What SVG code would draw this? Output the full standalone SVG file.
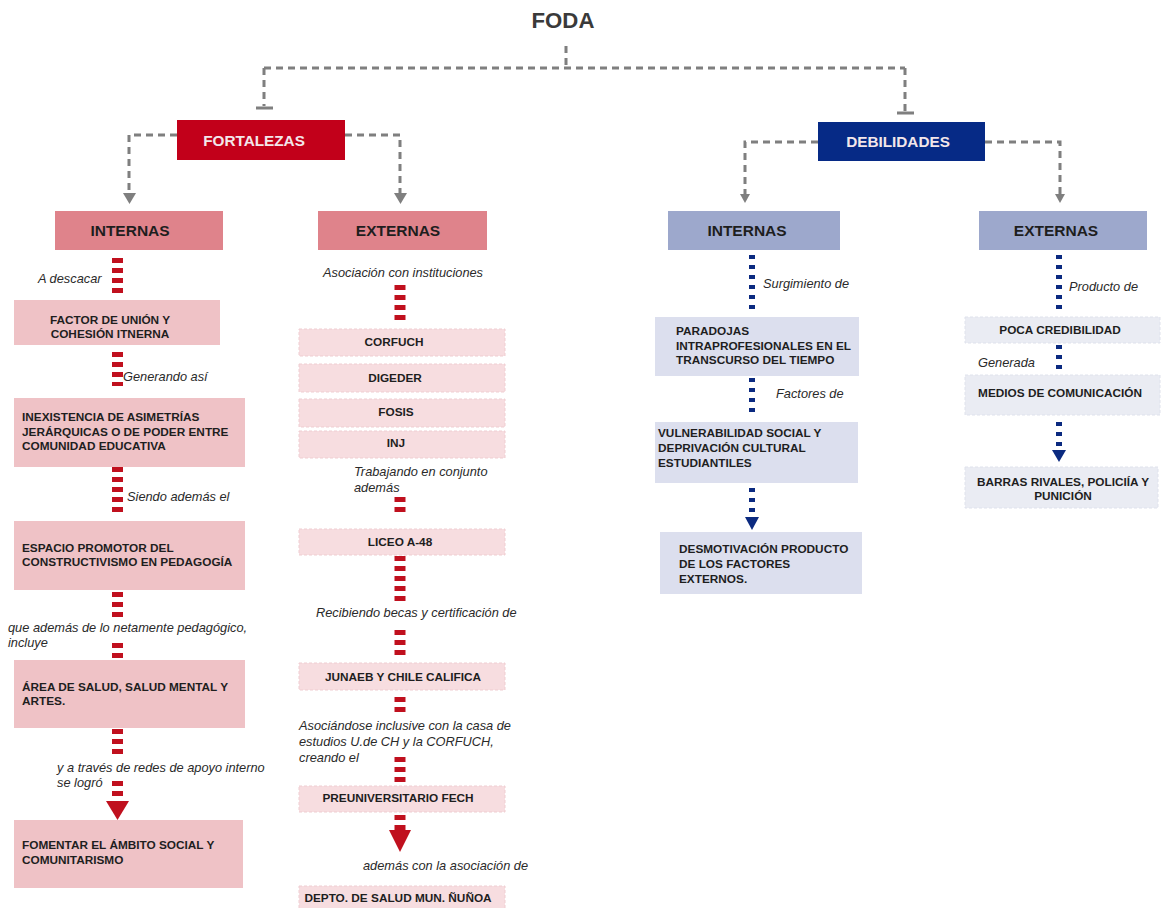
<svg xmlns="http://www.w3.org/2000/svg" width="1161" height="908" viewBox="0 0 1161 908">
<style>
.b{font-family:"Liberation Sans",Arial,sans-serif;font-weight:bold;font-size:11.8px;fill:#1e1e1e}
.h{font-family:"Liberation Sans",Arial,sans-serif;font-weight:bold;font-size:15.5px;fill:#1e1e1e}
.hw{font-family:"Liberation Sans",Arial,sans-serif;font-weight:bold;font-size:15.3px;fill:#f3e6ea}
.i{font-family:"Liberation Sans",Arial,sans-serif;font-style:italic;font-size:12.8px;fill:#2a2a2a}
.m{text-anchor:middle}
.gray{fill:none;stroke:#7f7f7f;stroke-width:3;stroke-dasharray:7 5}
.red{fill:none;stroke:#c0101e;stroke-width:11;stroke-dasharray:5 5}
.navy{fill:none;stroke:#0b2a80;stroke-width:6;stroke-dasharray:4 6}
.pk{fill:#efc2c6}
.pkd{fill:#f7dde0;stroke:#efcdd1;stroke-width:1;stroke-dasharray:3 2}
.ph{fill:#df838b}
.bh{fill:#9da8cc}
.bl{fill:#dcdfee}
.bld{fill:#eaecf3;stroke:#dfe2ec;stroke-width:1;stroke-dasharray:3 2}
</style>
<rect width="1161" height="908" fill="#ffffff"/>
<g id="connectors">
<path class="gray" d="M566,46 V68 M264,68 H905 M264,68 V106 M905,68 V111 M177,135 H129 V193 M345,135 H400 V193 M818,142 H745 V194 M985,142 H1060 V194"/>
<path d="M256,108 H273 M897,113 H914" stroke="#7f7f7f" stroke-width="3"/>
<polygon points="123,193 136,193 129.5,204" fill="#7f7f7f"/>
<polygon points="394,193 407,193 400.5,204" fill="#7f7f7f"/>
<polygon points="740,194 750,194 745,203" fill="#7f7f7f"/>
<polygon points="1055,194 1065,194 1060,203" fill="#7f7f7f"/>
<path class="red" d="M117.5,258 V294 M117.5,352 V386 M117.5,467 V512 M117.5,592 V618 M117.5,643 V660 M117.5,729 V755 M117.5,781 V801"/>
<polygon points="106,801 129,801 117.5,820" fill="#c0101e"/>
<path class="red" d="M400,285 V320 M400,497 V513 M400,556 V601 M400,630 V656 M400,697 V713 M400,757 V783 M400,815 V831"/>
<polygon points="389,830 411,830 400,852" fill="#c0101e"/>
<path class="navy" d="M752,255 V311 M752,378 V414 M752,488 V516 M1059,255 V311 M1059,345 V381 M1059,422 V449"/>
<polygon points="745,517 759,517 752,530" fill="#0b2a80"/>
<polygon points="1052,450 1066,450 1059,462" fill="#0b2a80"/>
</g>
<g id="foda"><text x="563" y="28" class="m" font-family="Liberation Sans,Arial,sans-serif" font-weight="bold" font-size="22.2px" fill="#3a3a3a">FODA</text></g>
<g id="fortalezas"><rect x="177" y="120" width="168" height="40" fill="#c2001a"/><text x="254" y="146" class="hw m">FORTALEZAS</text></g>
<g id="debilidades"><rect x="818" y="122" width="167" height="39" fill="#062a86"/><text x="898" y="147" class="hw m">DEBILIDADES</text></g>
<g id="f-internas"><rect x="55" y="211" width="168" height="39" class="ph"/><text x="130" y="236" class="h m">INTERNAS</text></g>
<g id="f-externas"><rect x="318" y="211" width="169" height="39" class="ph"/><text x="398" y="236" class="h m">EXTERNAS</text></g>
<g id="d-internas"><rect x="668" y="211" width="172" height="39" class="bh"/><text x="747" y="236" class="h m">INTERNAS</text></g>
<g id="d-externas"><rect x="979" y="211" width="168" height="39" class="bh"/><text x="1056" y="236" class="h m">EXTERNAS</text></g>

<g id="lbl-left">
<text x="38" y="283" class="i">A descacar</text>
<text x="123" y="381" class="i">Generando así</text>
<text x="127" y="501" class="i">Siendo además el</text>
<text x="8" y="632" class="i">que además de lo netamente pedagógico,</text>
<text x="8" y="647" class="i">incluye</text>
<text x="57" y="772" class="i">y a través de redes de apoyo interno</text>
<text x="57" y="787" class="i">se logró</text>
</g>
<g id="factor"><rect x="14" y="300" width="206" height="45" class="pk"/><text class="b m"><tspan x="110" y="324">FACTOR DE UNIÓN Y</tspan><tspan x="110" y="338">COHESIÓN ITNERNA</tspan></text></g>
<g id="inexistencia"><rect x="14" y="398" width="231" height="69" class="pk"/><text class="b"><tspan x="22" y="421">INEXISTENCIA DE ASIMETRÍAS</tspan><tspan x="22" y="436">JERÁRQUICAS O DE PODER ENTRE</tspan><tspan x="22" y="450">COMUNIDAD EDUCATIVA</tspan></text></g>
<g id="espacio"><rect x="14" y="521" width="231" height="69" class="pk"/><text class="b"><tspan x="22" y="552">ESPACIO PROMOTOR DEL</tspan><tspan x="22" y="566">CONSTRUCTIVISMO EN PEDAGOGÍA</tspan></text></g>
<g id="area"><rect x="14" y="660" width="231" height="68" class="pk"/><text class="b"><tspan x="22" y="691">ÁREA DE SALUD, SALUD MENTAL Y</tspan><tspan x="22" y="705">ARTES.</tspan></text></g>
<g id="fomentar"><rect x="14" y="820" width="229" height="68" class="pk"/><text class="b"><tspan x="22" y="849">FOMENTAR EL ÁMBITO SOCIAL Y</tspan><tspan x="22" y="864">COMUNITARISMO</tspan></text></g>

<g id="lbl-mid">
<text x="403" y="277" class="i m">Asociación con instituciones</text>
<text x="354" y="476" class="i">Trabajando en conjunto</text>
<text x="354" y="492" class="i">además</text>
<text x="316" y="617" class="i">Recibiendo becas y certificación de</text>
<text x="299" y="730" class="i">Asociándose inclusive con la casa de</text>
<text x="299" y="746" class="i">estudios U.de CH y la CORFUCH,</text>
<text x="299" y="762" class="i">creando el</text>
<text x="363" y="870" class="i">además con la asociación de</text>
</g>
<g id="corfuch"><rect x="299" y="329" width="206" height="27" class="pkd"/><text x="394" y="346" class="b m">CORFUCH</text></g>
<g id="digeder"><rect x="299" y="364" width="206" height="28" class="pkd"/><text x="395" y="382" class="b m">DIGEDER</text></g>
<g id="fosis"><rect x="299" y="399" width="206" height="28" class="pkd"/><text x="396" y="416" class="b m">FOSIS</text></g>
<g id="inj"><rect x="299" y="431" width="206" height="27" class="pkd"/><text x="396" y="447" class="b m">INJ</text></g>
<g id="liceo"><rect x="299" y="529" width="206" height="26" class="pkd"/><text x="400" y="546" class="b m">LICEO A-48</text></g>
<g id="junaeb"><rect x="299" y="663" width="206" height="27" class="pkd"/><text x="403" y="681" class="b m">JUNAEB Y CHILE CALIFICA</text></g>
<g id="preu"><rect x="299" y="786" width="206" height="26" class="pkd"/><text x="398" y="802" class="b m">PREUNIVERSITARIO FECH</text></g>
<g id="depto"><rect x="299" y="886" width="206" height="30" class="pkd"/><text x="398" y="902" class="b m">DEPTO. DE SALUD MUN. ÑUÑOA</text></g>

<g id="lbl-right">
<text x="763" y="288" class="i">Surgimiento de</text>
<text x="776" y="398" class="i">Factores de</text>
<text x="1069" y="291" class="i">Producto de</text>
<text x="978" y="367" class="i">Generada</text>
</g>
<g id="paradojas"><rect x="655" y="317" width="204" height="59" class="bl"/><text class="b"><tspan x="676" y="335">PARADOJAS</tspan><tspan x="676" y="350">INTRAPROFESIONALES EN EL</tspan><tspan x="676" y="364">TRANSCURSO DEL TIEMPO</tspan></text></g>
<g id="vulnerabilidad"><rect x="655" y="422" width="203" height="61" class="bl"/><text class="b"><tspan x="658" y="437">VULNERABILIDAD SOCIAL Y</tspan><tspan x="658" y="452">DEPRIVACIÓN CULTURAL</tspan><tspan x="658" y="467">ESTUDIANTILES</tspan></text></g>
<g id="desmotivacion"><rect x="660" y="532" width="202" height="62" class="bl"/><text class="b"><tspan x="679" y="553">DESMOTIVACIÓN PRODUCTO</tspan><tspan x="679" y="568">DE LOS FACTORES</tspan><tspan x="679" y="583">EXTERNOS.</tspan></text></g>
<g id="poca"><rect x="965" y="317" width="195" height="26" class="bld"/><text x="1060" y="334" class="b m">POCA CREDIBILIDAD</text></g>
<g id="medios"><rect x="965" y="375" width="195" height="40" class="bld"/><text x="1060" y="397" class="b m">MEDIOS DE COMUNICACIÓN</text></g>
<g id="barras"><rect x="965" y="467" width="193" height="41" class="bld"/><text class="b m"><tspan x="1063" y="486">BARRAS RIVALES, POLICIÍA Y</tspan><tspan x="1063" y="500">PUNICIÓN</tspan></text></g>
</svg>
